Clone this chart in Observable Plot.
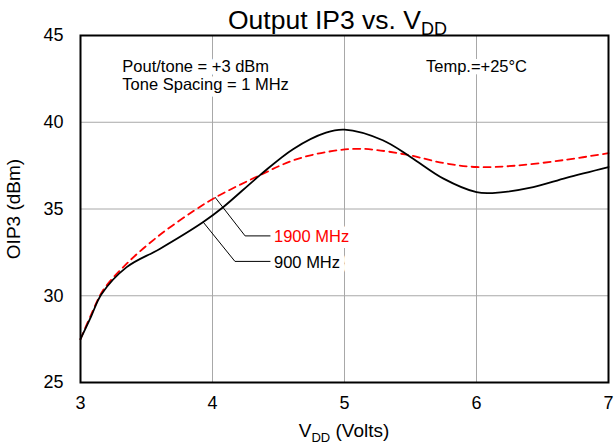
<!DOCTYPE html>
<html>
<head>
<meta charset="utf-8">
<script src="https://cdn.jsdelivr.net/npm/d3@7"></script>
<script src="https://cdn.jsdelivr.net/npm/@observablehq/plot@0.6"></script>
<style>
  html, body { margin: 0; padding: 0; background: #fff; }
  svg { font-family: "Liberation Sans", Arial, sans-serif; }
</style>
</head>
<body>
<div id="chart"></div>
<script>
// ---- data ----
const xTicks = [3, 4, 5, 6, 7];
const yTicks = [25, 30, 35, 40, 45];

const vdd900 = [3.0, 3.08, 3.16, 3.35, 3.6, 3.93, 4.08, 4.36, 4.61, 4.86, 5.0, 5.29, 5.5, 5.75, 6.0, 6.12, 6.43, 6.68, 7.0];
const oip900 = [27.5, 28.8, 30.1, 31.65, 32.7, 34.25, 35.1, 36.95, 38.45, 39.4, 39.57, 38.96, 38.0, 36.75, 35.97, 35.92, 36.26, 36.8, 37.42];

const vdd1900 = [3.0, 3.08, 3.17, 3.35, 3.6, 3.86, 4.03, 4.36, 4.61, 4.86, 5.12, 5.47, 5.75, 6.0, 6.3, 6.68, 7.0];
const oip1900 = [27.5, 28.9, 30.3, 31.85, 33.5, 34.9, 35.7, 36.95, 37.8, 38.28, 38.47, 38.13, 37.65, 37.42, 37.5, 37.84, 38.22];

// annotation leader lines (data units)
const leader1900X = [4.02, 4.247, 4.436];
const leader1900Y = [35.67, 33.45, 33.45];
const leader900X = [3.93, 4.17, 4.436];
const leader900Y = [34.24, 31.98, 31.98];

const seriesLabels = ["1900 MHz", "900 MHz"];
const seriesLabelX = [4.466, 4.466];
const seriesLabelY = [33.4, 31.93];
const seriesColors = ["#ff0000", "#000000"];

const noteText = ["Pout/tone = +3 dBm", "Tone Spacing = 1 MHz"];
const noteX = [3.317, 3.317];
const noteY = [43.21, 42.18];
const tempText = ["Temp.=+25°C"];
const tempX = [6.0];
const tempY = [43.21];

// ---- tables ----
const s900 = vdd900.map((v, i) => ({v, o: oip900[i]}));
const s1900 = vdd1900.map((v, i) => ({v, o: oip1900[i]}));
const l1900 = leader1900X.map((v, i) => ({v, o: leader1900Y[i]}));
const l900 = leader900X.map((v, i) => ({v, o: leader900Y[i]}));
const labels = seriesLabels.map((t, i) => ({t, v: seriesLabelX[i], o: seriesLabelY[i], c: seriesColors[i]}));
const notes = noteText.map((t, i) => ({t, v: noteX[i], o: noteY[i]}));
const temps = tempText.map((t, i) => ({t, v: tempX[i], o: tempY[i]}));

const plot = Plot.plot({
  width: 614,
  height: 444,
  marginLeft: 80,
  marginRight: 6,
  marginTop: 35,
  marginBottom: 62,
  style: {fontFamily: "Liberation Sans, Arial, sans-serif", fontSize: "18px", background: "#fff"},
  x: {domain: [3, 7], label: null},
  y: {domain: [25, 45], label: null},
  marks: [
    Plot.gridX(xTicks, {stroke: "#a8a8a8", strokeOpacity: 1, strokeWidth: 1}),
    Plot.gridY(yTicks, {stroke: "#a8a8a8", strokeOpacity: 1, strokeWidth: 1}),
    Plot.text(notes, {x: "v", y: "o", text: "t", textAnchor: "start", fontSize: 16.5, fill: "#000", stroke: "#fff", strokeWidth: 10, paintOrder: "stroke"}),
    Plot.text(temps, {x: "v", y: "o", text: "t", textAnchor: "middle", fontSize: 16.5, fill: "#000", stroke: "#fff", strokeWidth: 10, paintOrder: "stroke"}),
    Plot.text(labels, {x: "v", y: "o", text: "t", textAnchor: "start", fontSize: 16.5, fill: "c", stroke: "#fff", strokeWidth: 12, paintOrder: "stroke"}),
    Plot.line(l1900, {x: "v", y: "o", stroke: "#000", strokeWidth: 1}),
    Plot.line(l900, {x: "v", y: "o", stroke: "#000", strokeWidth: 1}),
    Plot.line(s1900, {x: "v", y: "o", stroke: "#ff0000", strokeWidth: 1.8, strokeDasharray: "7,5", curve: "catmull-rom"}),
    Plot.line(s900, {x: "v", y: "o", stroke: "#000", strokeWidth: 1.8, curve: "catmull-rom"}),
    Plot.axisX(xTicks, {tickSize: 0, tickPadding: 14, fontSize: 18, fill: "#000", tickFormat: d3.format("d")}),
    Plot.axisY(yTicks, {tickSize: 0, tickPadding: 17, fontSize: 18, fill: "#000", tickFormat: d3.format("d")}),
    Plot.frame({stroke: "#000", strokeWidth: 2})
  ]
});

document.getElementById("chart").appendChild(plot);

// ---- title and axis labels (with subscripts) ----
const svg = d3.select(plot);
const title = svg.append("text")
  .attr("x", 228).attr("y", 29)
  .attr("text-anchor", "start")
  .attr("font-size", 26.5)
  .attr("fill", "#000");
title.append("tspan").text("Output IP3 vs. V");
title.append("tspan").attr("font-size", 18).attr("dy", 6).text("DD");

const xl = svg.append("text")
  .attr("x", 344).attr("y", 437)
  .attr("text-anchor", "middle")
  .attr("font-size", 19)
  .attr("fill", "#000");
xl.append("tspan").text("V");
xl.append("tspan").attr("font-size", 13).attr("dy", 5).text("DD");
xl.append("tspan").attr("dy", -5).text(" (Volts)");

svg.append("text")
  .attr("transform", "translate(20,209) rotate(-90)")
  .attr("text-anchor", "middle")
  .attr("font-size", 19)
  .attr("fill", "#000")
  .text("OIP3 (dBm)");
</script>
</body>
</html>
